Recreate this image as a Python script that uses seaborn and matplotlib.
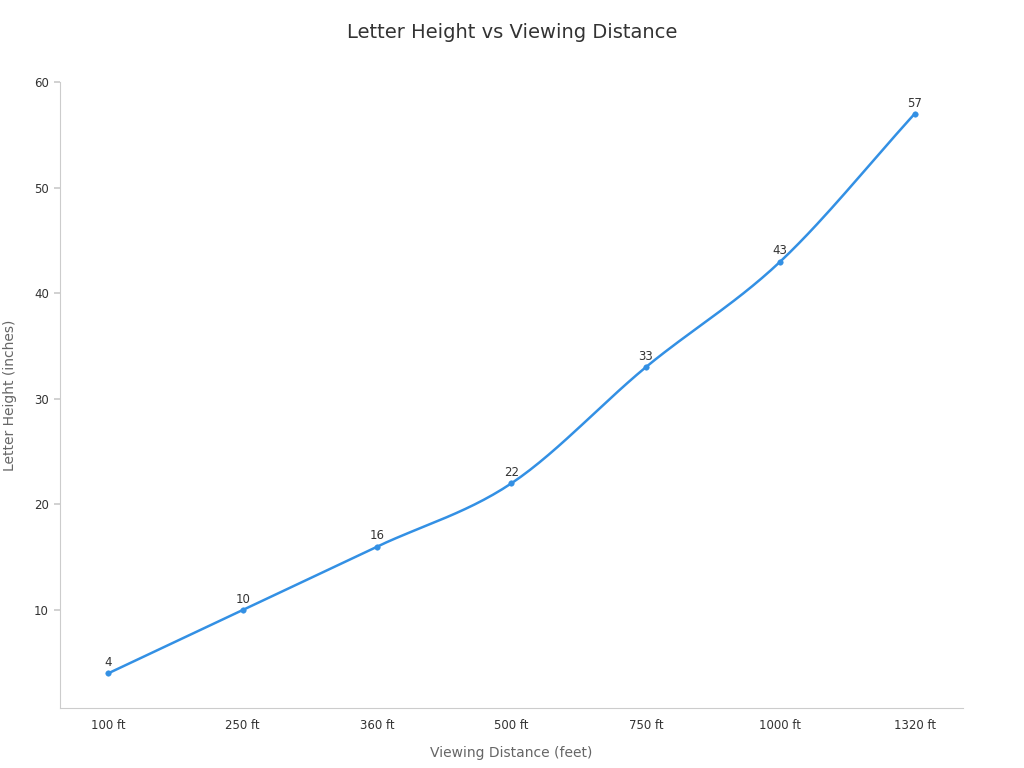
import numpy as np
import pandas as pd
import matplotlib
matplotlib.use("Agg")
import matplotlib.pyplot as plt
import seaborn as sns

categories = ["100 ft", "250 ft", "360 ft", "500 ft", "750 ft", "1000 ft", "1320 ft"]
heights = [4, 10, 16, 22, 33, 43, 57]

sns.set_theme(style="white")
plt.rcParams['font.family'] = ['DejaVu Sans']

fig, ax = plt.subplots(figsize=(10.24, 7.68), dpi=100)
fig.subplots_adjust(left=0.0586, right=0.9404, top=0.893, bottom=0.078)

color = "#3390e4"
x = np.arange(len(categories), dtype=float)
y = np.array(heights, dtype=float)

px = np.concatenate([[2*x[0]-x[1]], x, [2*x[-1]-x[-2]]])
py = np.concatenate([[2*y[0]-y[1]], y, [2*y[-1]-y[-2]]])
sx, sy = [], []
for i in range(1, len(px)-2):
    t = np.linspace(0, 1, 30)
    for arr, out in ((px, sx), (py, sy)):
        p0, p1, p2, p3 = arr[i-1], arr[i], arr[i+1], arr[i+2]
        out.extend(0.5*((2*p1) + (-p0+p2)*t + (2*p0-5*p1+4*p2-p3)*t**2 + (-p0+3*p1-3*p2+p3)*t**3))
ax.plot(sx, sy, color=color, lw=1.8, zorder=2)

df = pd.DataFrame({"x": x, "y": y})
sns.scatterplot(data=df, x="x", y="y", ax=ax, color=color, s=16, edgecolor=color, zorder=3)
for xi, yi in zip(x, y):
    ax.annotate(str(int(yi)), (xi, yi), xytext=(0, 3), textcoords="offset points",
                ha="center", va="bottom", fontsize=8.5, color="#333333")

ax.set_xticks(x)
ax.set_xticklabels(categories)
ax.set_xlim(-0.36, 6.36)
ax.set_ylim(0.7, 60)
ax.set_yticks([10, 20, 30, 40, 50, 60])
ax.tick_params(axis="both", labelsize=8.5, colors="#333333", length=4, color="#cccccc")
ax.tick_params(axis="x", length=0, pad=8)
ax.tick_params(axis="y", left=True, pad=4)
for s in ["top", "right"]:
    ax.spines[s].set_visible(False)
for s in ["left", "bottom"]:
    ax.spines[s].set_color("#cccccc")
    ax.spines[s].set_linewidth(0.8)
ax.set_xlabel("Viewing Distance (feet)", fontsize=10, color="#666666", labelpad=10)
ax.set_ylabel("Letter Height (inches)", fontsize=10, color="#666666", labelpad=12)
fig.suptitle("Letter Height vs Viewing Distance", fontsize=14, color="#333333", y=0.97)

fig.savefig("out.png", dpi=100)
